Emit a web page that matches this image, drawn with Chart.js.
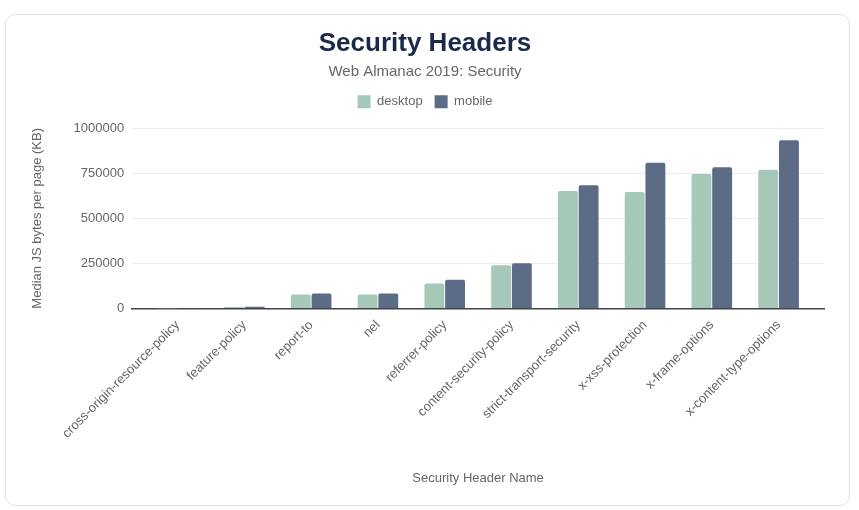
<!DOCTYPE html>
<html>
<head>
<meta charset="utf-8">
<script src="https://cdn.jsdelivr.net/npm/chart.js@4"></script>
<style>
  html, body { margin: 0; padding: 0; background: #fff; }
  #card {
    position: absolute; left: 5px; top: 14px; width: 845px; height: 492px;
    border: 1px solid #e2e2e2; border-radius: 10px; box-sizing: border-box;
  }
  #chart { display: block; }
</style>
</head>
<body>
<div id="card"><canvas id="chart"></canvas></div>
<script>
// === Data: median bytes per page by security header ===
const headers = [
  "cross-origin-resource-policy", "feature-policy", "report-to", "nel",
  "referrer-policy", "content-security-policy", "strict-transport-security",
  "x-xss-protection", "x-frame-options", "x-content-type-options"
];
const desktop = [500, 8000, 78000, 78000, 139000, 240000, 652000, 646000, 746000, 770000];
const mobile = [600, 9000, 83000, 83000, 159000, 251000, 683000, 809000, 783000, 933000];
const yTicks = [0, 250000, 500000, 750000, 1000000];

const font = "'Liberation Sans', Arial, Helvetica, sans-serif";

// category axis with a little extra room at both ends (axis line runs past the bars)
class PaddedCategoryScale extends Chart.CategoryScale {
  buildTicks() {
    const ticks = super.buildTicks();
    this._startValue -= 0.18;
    this._valueRange += 0.36;
    return ticks;
  }
}
PaddedCategoryScale.id = "paddedCategory";
PaddedCategoryScale.defaults = Chart.CategoryScale.defaults;
Chart.register(PaddedCategoryScale);

// extra space under the legend
const legendGap = {
  id: "legendGap",
  beforeInit(chart) {
    const fit = chart.legend.fit;
    chart.legend.fit = function () {
      fit.call(this);
      this.height += 10;
    };
  }
};

new Chart(document.getElementById("chart"), {
  type: "bar",
  data: {
    labels: headers,
    datasets: [
      { label: "desktop", data: desktop, backgroundColor: "#a6c8b8", borderRadius: 2 },
      { label: "mobile", data: mobile, backgroundColor: "#5c6b86", borderRadius: 2 }
    ]
  },
  plugins: [legendGap],
  options: {
    responsive: true,
    maintainAspectRatio: false,
    animation: false,
    layout: { padding: { left: 20, right: 25, top: 0, bottom: 15 } },
    datasets: { bar: { categoryPercentage: 0.62, barPercentage: 0.96 } },
    plugins: {
      title: {
        display: true, text: "Security Headers", color: "#1b2a4a",
        font: { family: font, size: 26, weight: "bold" },
        padding: { top: 13, bottom: 4 }
      },
      subtitle: {
        display: true, text: "Web Almanac 2019: Security", color: "#666",
        font: { family: font, size: 15 },
        padding: { top: 0, bottom: 2 }
      },
      legend: {
        labels: { color: "#666", font: { family: font, size: 13 }, boxWidth: 13, boxHeight: 13, padding: 12 }
      },
      tooltip: { enabled: false }
    },
    scales: {
      x: {
        type: "paddedCategory",
        grid: { display: false, drawTicks: false },
        border: { color: "#444", width: 1.5 },
        ticks: { color: "#666", font: { family: font, size: 13 }, minRotation: 45, maxRotation: 45, padding: 9 },
        title: { display: true, text: "Security Header Name", color: "#666", font: { family: font, size: 13 }, padding: { top: 20 } }
      },
      y: {
        min: 0, max: 1000000,
        afterBuildTicks: axis => { axis.ticks = yTicks.map(v => ({ value: v })); },
        grid: { color: "#ececec", drawTicks: false },
        border: { display: false },
        ticks: { color: "#666", font: { family: font, size: 13 }, padding: 8, callback: v => String(v) },
        title: { display: true, text: "Median JS bytes per page (KB)", color: "#666", font: { family: font, size: 13 }, padding: { top: 4, bottom: 20 } }
      }
    }
  }
});
</script>
</body>
</html>
